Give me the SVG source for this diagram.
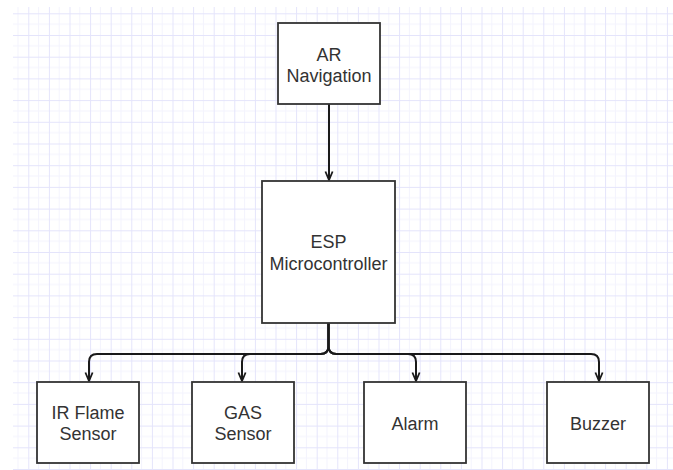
<svg xmlns="http://www.w3.org/2000/svg" width="673" height="470" viewBox="0 0 673 470">
  <defs>
    <!-- background grid: major lines with a fainter minor line halfway -->
    <pattern id="grid" patternUnits="userSpaceOnUse" x="7.7" y="-8.4" width="20.6" height="21.7">
      <line x1="10.3" y1="0" x2="10.3" y2="21.7" stroke="#f3f3fd" stroke-width="1"/>
      <line x1="0" y1="10.85" x2="20.6" y2="10.85" stroke="#f3f3fd" stroke-width="1"/>
      <line x1="0.5" y1="0" x2="0.5" y2="21.7" stroke="#e4e4fb" stroke-width="1"/>
      <line x1="0" y1="0.5" x2="20.6" y2="0.5" stroke="#e4e4fb" stroke-width="1"/>
    </pattern>
    <marker id="arrow" markerUnits="userSpaceOnUse" markerWidth="12" markerHeight="12"
            viewBox="-11 -6 12 12" refX="0" refY="0" orient="auto">
      <path d="M-8.5,-3.6 L0,0 L-8.5,3.6" fill="none" stroke="#1a1a1a" stroke-width="1.8"/>
    </marker>
  </defs>
  <style>
    .box { fill: #ffffff; stroke: #333333; stroke-width: 1.8; }
    .label { font-family: "Liberation Sans", Arial, sans-serif; font-size: 18px; fill: #333333; text-anchor: middle; }
    .edge { fill: none; stroke: #1a1a1a; stroke-width: 2; marker-end: url(#arrow); }
  </style>

  <rect width="673" height="470" fill="#ffffff"/>
  <rect x="13" y="7" width="660" height="463" fill="url(#grid)"/>

  <g id="connectors">
    <path class="edge" d="M329 104 V180"/>
    <path class="edge" d="M328.5 323 V346 Q328.5 354 320.5 354 H97 Q89 354 89 362 V381"/>
    <path class="edge" d="M328.5 323 V346 Q328.5 354 320.5 354 H250 Q242 354 242 362 V381"/>
    <path class="edge" d="M328.5 323 V346 Q328.5 354 336.5 354 H408 Q416 354 416 362 V381"/>
    <path class="edge" d="M328.5 323 V346 Q328.5 354 336.5 354 H591 Q599 354 599 362 V381"/>
  </g>

  <g id="ar-navigation">
    <rect class="box" x="278" y="23" width="102" height="81"/>
    <text class="label" x="329" y="61">AR</text>
    <text class="label" x="329" y="82">Navigation</text>
  </g>

  <g id="esp-microcontroller">
    <rect class="box" x="262" y="181" width="133" height="142"/>
    <text class="label" x="328.5" y="247.5">ESP</text>
    <text class="label" x="328.5" y="269.5">Microcontroller</text>
  </g>

  <g id="ir-flame-sensor">
    <rect class="box" x="37" y="382" width="102" height="81"/>
    <text class="label" x="88" y="418.5">IR Flame</text>
    <text class="label" x="88" y="440">Sensor</text>
  </g>

  <g id="gas-sensor">
    <rect class="box" x="192" y="382" width="102" height="81"/>
    <text class="label" x="243" y="418.5">GAS</text>
    <text class="label" x="243" y="440">Sensor</text>
  </g>

  <g id="alarm">
    <rect class="box" x="364" y="382" width="102" height="81"/>
    <text class="label" x="415" y="430">Alarm</text>
  </g>

  <g id="buzzer">
    <rect class="box" x="547" y="382" width="102" height="81"/>
    <text class="label" x="598" y="430">Buzzer</text>
  </g>
</svg>
